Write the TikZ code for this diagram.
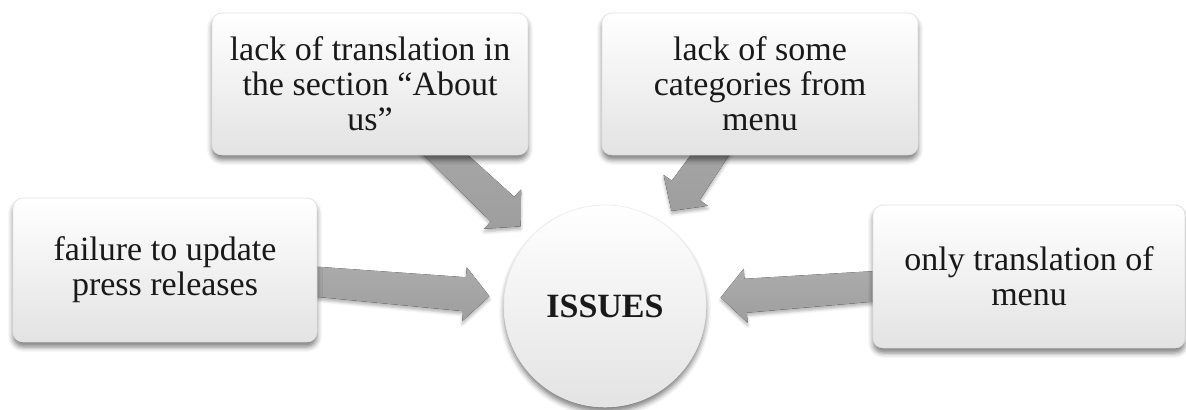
\documentclass[tikz,border=0pt]{standalone}
\usepackage{fontspec}
\setmainfont{Liberation Serif}
\usetikzlibrary{calc,shadows.blur}
\newcommand\issuearrow[2]{%
  \coordinate (#2b) at ($(O)!70.5pt!(#1)$);
  \coordinate (#2t) at ($(O)!58pt!(#1)$);
  \fill[arrowfill]
    ($(#1)!6.5pt!90:(O)$) -- ($(#2b)!8.5pt!90:(O)$) -- ($(#2b)!13.5pt!90:(O)$) --
    (#2t) --
    ($(#2b)!13.5pt!-90:(O)$) -- ($(#2b)!8.5pt!-90:(O)$) -- ($(#1)!6.5pt!-90:(O)$) -- cycle;
}
\begin{document}
\begin{tikzpicture}[x=0.5pt,y=-0.5pt,
  txt/.style={font=\fontsize{17pt}{17.5pt}\selectfont, align=center, text=black!90},
  box/.style={txt, rectangle, rounded corners=5pt, top color=white, bottom color=black!11,
    draw=black!12, line width=0.3pt, inner sep=0pt,
    blur shadow={shadow xshift=0pt, shadow yshift=-2.5pt, shadow blur radius=2.5pt, shadow opacity=50}},
  hub/.style={txt, circle, top color=white, bottom color=black!11, draw=black!8, line width=0.3pt,
    minimum size=101pt, inner sep=0pt, font=\fontsize{17pt}{17.5pt}\selectfont\bfseries,
    blur shadow={shadow xshift=0pt, shadow yshift=-2.5pt, shadow blur radius=2.5pt, shadow opacity=50}},
  arrowfill/.style={top color=black!32, bottom color=black!38,
    blur shadow={shadow xshift=0pt, shadow yshift=-1.5pt, shadow blur radius=1.5pt, shadow opacity=30}},
]
\useasboundingbox (0,0) rectangle (1186,410);
\coordinate (O) at (605,306);
\coordinate (Ac) at (370,84);
\coordinate (Bc) at (760,84);
\coordinate (Cc) at (165,269);
\coordinate (Dc) at (1029,275);
% arrows (under the boxes)
\issuearrow{Ac}{a}
\issuearrow{Bc}{b}
\issuearrow{Cc}{c}
\issuearrow{Dc}{d}
% boxes
\node[box, minimum width=158pt, minimum height=71pt] (A) at (370,84)
  {lack of translation in\\the section “About\\us”};
\node[box, minimum width=158pt, minimum height=71pt] (B) at (760,84)
  {lack of some\\categories from\\menu};
\node[box, minimum width=152pt, minimum height=72pt] (C) at (165,270)
  {failure to update\\press releases};
\node[box, minimum width=156pt, minimum height=71.5pt] (D) at (1029,276.5)
  {only translation of\\menu};
\node[hub] (H) at (O) {ISSUES};
\end{tikzpicture}
\end{document}
